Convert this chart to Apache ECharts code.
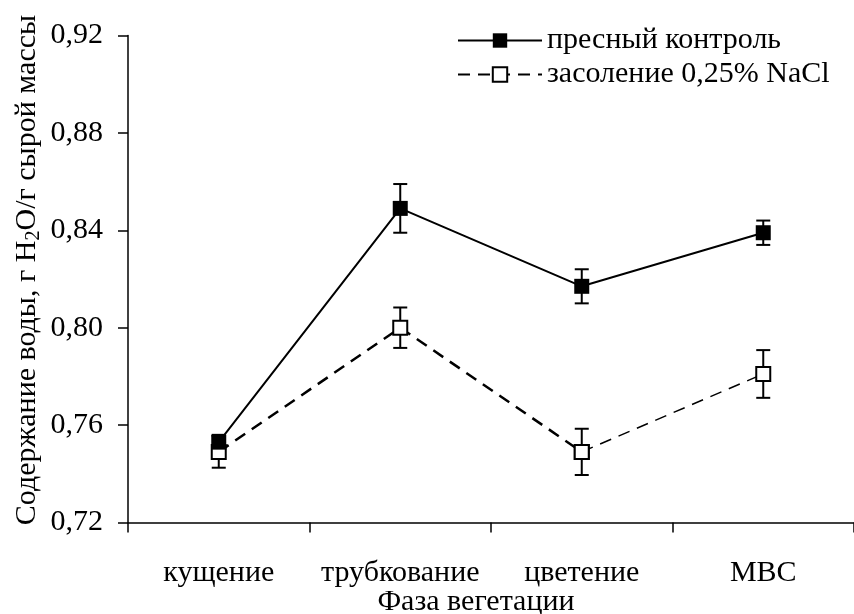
<!DOCTYPE html>
<html>
<head>
<meta charset="utf-8">
<script src="https://cdn.jsdelivr.net/npm/echarts@6/dist/echarts.min.js"></script>
<style>html,body{margin:0;padding:0;background:#fff;}#chart{width:854px;height:614px;}</style>
</head>
<body>
<div id="chart"></div>
<script>
const categories = ['кущение', 'трубкование', 'цветение', 'МВС'];
const controlValues = [0.753, 0.849, 0.817, 0.839];
const controlErrors = [0.003, 0.010, 0.007, 0.005];
const salineValues = [0.749, 0.800, 0.749, 0.781];
const salineErrors = [0.0065, 0.0083, 0.0095, 0.0098];
const yMin = 0.72, yMax = 0.92, yStep = 0.04;
const controlName = 'пресный контроль';
const salineName = 'засоление 0,25% NaCl';

const FONT = 'Liberation Serif';
const FS = 30;
const chart = echarts.init(document.getElementById('chart'), null, {renderer: 'canvas'});

function errRender(params, api) {
  const x = api.value(0), v = api.value(1), e = api.value(2);
  const top = api.coord([x, v + e]);
  const bot = api.coord([x, v - e]);
  const hw = 7;
  const st = {stroke: '#000', lineWidth: 2, fill: null};
  return {type: 'group', children: [
    {type: 'line', shape: {x1: top[0], y1: top[1], x2: bot[0], y2: bot[1]}, style: st},
    {type: 'line', shape: {x1: top[0] - hw, y1: top[1], x2: top[0] + hw, y2: top[1]}, style: st},
    {type: 'line', shape: {x1: bot[0] - hw, y1: bot[1], x2: bot[0] + hw, y2: bot[1]}, style: st}
  ]};
}

const option = {
  backgroundColor: '#fff',
  animation: false,
  textStyle: {fontFamily: FONT},
  grid: {left: 128, right: -4, top: 35.5, bottom: 91.5, containLabel: false},
  legend: {
    orient: 'vertical', left: 452, top: 20,
    data: [controlName, salineName],
    itemWidth: 84, itemHeight: 18, itemGap: 3,
    textStyle: {fontFamily: FONT, fontSize: FS, color: '#000', lineHeight: 31},
    selectedMode: false
  },
  xAxis: {
    type: 'category', data: categories,
    axisLine: {lineStyle: {color: '#000', width: 1.5}},
    axisTick: {show: true, interval: 0, length: 10, inside: false, lineStyle: {color: '#000', width: 1.5}},
    axisLabel: {interval: 0, color: '#000', fontFamily: FONT, fontSize: FS, margin: 36}
  },
  yAxis: {
    type: 'value', min: yMin, max: yMax, interval: yStep,
    splitLine: {show: false},
    axisLine: {show: true, lineStyle: {color: '#000', width: 1.5}},
    axisTick: {show: true, length: 10, lineStyle: {color: '#000', width: 1.5}},
    axisLabel: {color: '#000', fontFamily: FONT, fontSize: FS, margin: 25,
      formatter: v => v.toFixed(2).replace('.', ',')}
  },
  graphic: [
    {type: 'text', x: 27, y: 270, rotation: Math.PI / 2,
      style: {text: '{n|Содержание воды, г H}{s|2}{n|O/г сырой массы}', textAlign: 'center', textVerticalAlign: 'middle',
        rich: {n: {fontFamily: FONT, fontSize: FS, lineHeight: 34, fill: '#000', color: '#000'},
               s: {fontFamily: FONT, fontSize: 20, lineHeight: 16, verticalAlign: 'bottom', fill: '#000', color: '#000'}}}},
    {type: 'text', x: 476, y: 602,
      style: {text: 'Фаза вегетации', textAlign: 'center', textVerticalAlign: 'middle', font: FS + 'px "Liberation Serif"', fill: '#000'}}
  ],
  series: [
    {type: 'custom', name: 'errSaline', renderItem: errRender, z: 1,
      data: salineValues.map((v, i) => [i, v, salineErrors[i]])},
    {type: 'custom', name: 'errControl', renderItem: errRender, z: 1,
      data: controlValues.map((v, i) => [i, v, controlErrors[i]])},
    {type: 'line', name: salineName, z: 3,
      data: salineValues.map((v, i) => i < 3 ? v : null),
      symbol: 'rect', symbolSize: 14,
      lineStyle: {color: '#000', width: 2.5, type: [12, 8]},
      itemStyle: {color: '#fff', borderColor: '#000', borderWidth: 2}},
    {type: 'line', name: 'salineTail', z: 3,
      data: salineValues.map((v, i) => i >= 2 ? v : null),
      symbol: 'rect', symbolSize: 14,
      lineStyle: {color: '#000', width: 1.5, type: [12, 8]},
      itemStyle: {color: '#fff', borderColor: '#000', borderWidth: 2}},
    {type: 'line', name: controlName, z: 5,
      data: controlValues,
      symbol: 'rect', symbolSize: 15,
      lineStyle: {color: '#000', width: 2},
      itemStyle: {color: '#000', borderColor: '#000', borderWidth: 0}}
  ]
};
chart.setOption(option);
</script>
</body>
</html>
